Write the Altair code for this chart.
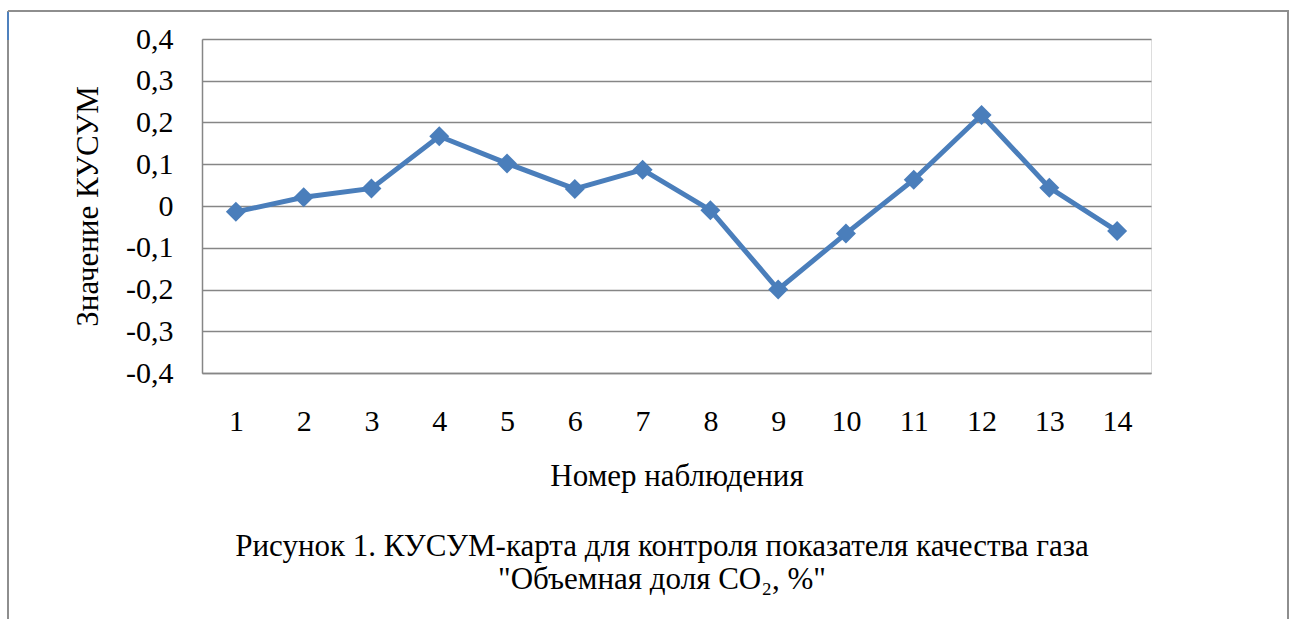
import altair as alt
import pandas as pd

# ---- data ----
observations = list(range(1, 15))
cusum_values = [-0.014, 0.021, 0.042, 0.167, 0.102, 0.041, 0.087,
                -0.010, -0.200, -0.066, 0.063, 0.218, 0.044, -0.060]
y_ticks = [-0.4, -0.3, -0.2, -0.1, 0.0, 0.1, 0.2, 0.3, 0.4]

x_title = "Номер наблюдения"
y_title = "Значение КУСУМ"
caption_lines = ["Рисунок 1. КУСУМ-карта для контроля показателя качества газа",
                 "\"Объемная доля CO₂, %\""]

df = pd.DataFrame({"obs": observations, "cusum": cusum_values})

FONT = "Liberation Serif"
BLUE = "#4A7EBB"
GRID = "#868686"
FRAME = "#8E8E8E"
W, H = 949, 334
LEFT, TOP = 202, 39
LBL = 30
TTL = 31

label_expr = ("datum.value == 0 ? '0' : (datum.value < 0 ? '-' : '') + "
              "replace(format(abs(datum.value), '.1f'), '.', ',')")

x_enc = alt.X("obs:O",
              scale=alt.Scale(type="point", padding=0.5),
              axis=alt.Axis(title=x_title, labelAngle=0, ticks=False,
                            grid=False, domain=True, domainColor=GRID,
                            domainWidth=1.5, labelPadding=33,
                            labelFont=FONT, labelFontSize=LBL, labelColor="black",
                            titleFont=FONT, titleFontSize=TTL, titleFontWeight="normal",
                            titleColor="black", titleX=W / 2, titleY=103,
                            titleAlign="center", titleBaseline="middle"))
y_enc = alt.Y("cusum:Q",
              scale=alt.Scale(domain=[-0.4, 0.4], nice=False, zero=False),
              axis=alt.Axis(title=y_title, values=y_ticks, labelExpr=label_expr,
                            ticks=False, grid=True, gridColor=GRID, gridWidth=1.3,
                            domain=True, domainColor=GRID, domainWidth=1.5,
                            labelPadding=29, labelFont=FONT, labelFontSize=LBL,
                            labelColor="black",
                            titleFont=FONT, titleFontSize=TTL, titleFontWeight="normal",
                            titleColor="black", titleAngle=-90, titleX=-114,
                            titleY=H / 2, titleAlign="center", titleBaseline="middle"))

line = alt.Chart(df).mark_line(color=BLUE, strokeWidth=5).encode(x=x_enc, y=y_enc)
points = alt.Chart(df).mark_point(shape="diamond", filled=True, opacity=1,
                                  color=BLUE, size=400).encode(x="obs:O", y="cusum:Q")

one = alt.Data(values=[{}])
frame_left = alt.Chart(one).mark_rule(color=FRAME, strokeWidth=2).encode(
    x=alt.value(8 - LEFT), y=alt.value(11 - TOP), y2=alt.value(619 - TOP))
frame_top = alt.Chart(one).mark_rule(color=FRAME, strokeWidth=2).encode(
    x=alt.value(8 - LEFT), x2=alt.value(1289 - LEFT), y=alt.value(11 - TOP))
frame_right = alt.Chart(one).mark_rule(color=FRAME, strokeWidth=2).encode(
    x=alt.value(1288 - LEFT), y=alt.value(11 - TOP), y2=alt.value(619 - TOP))
frame_blue = alt.Chart(one).mark_rule(color="#4F81BD", strokeWidth=2).encode(
    x=alt.value(8 - LEFT), y=alt.value(12 - TOP), y2=alt.value(40 - TOP))

cap1 = alt.Chart(one).mark_text(font=FONT, fontSize=TTL, color="black",
                                align="center", baseline="middle").encode(
    x=alt.value(662 - LEFT), y=alt.value(547 - TOP), text=alt.value(caption_lines[0]))
cap2 = alt.Chart(one).mark_text(font=FONT, fontSize=TTL, color="black",
                                align="center", baseline="middle").encode(
    x=alt.value(662 - LEFT), y=alt.value(580 - TOP), text=alt.value(caption_lines[1]))

chart = alt.layer(line, points, frame_left, frame_top, frame_right, frame_blue,
                  cap1, cap2).properties(
    width=W, height=H,
    autosize=alt.AutoSizeParams(type="none"),
    padding={"left": LEFT, "top": TOP, "right": 1289 - LEFT - W, "bottom": 619 - TOP - H},
).configure_view(stroke=None).configure(background="white")

chart.save("out.html", embed_options={"renderer": "svg", "actions": False})
